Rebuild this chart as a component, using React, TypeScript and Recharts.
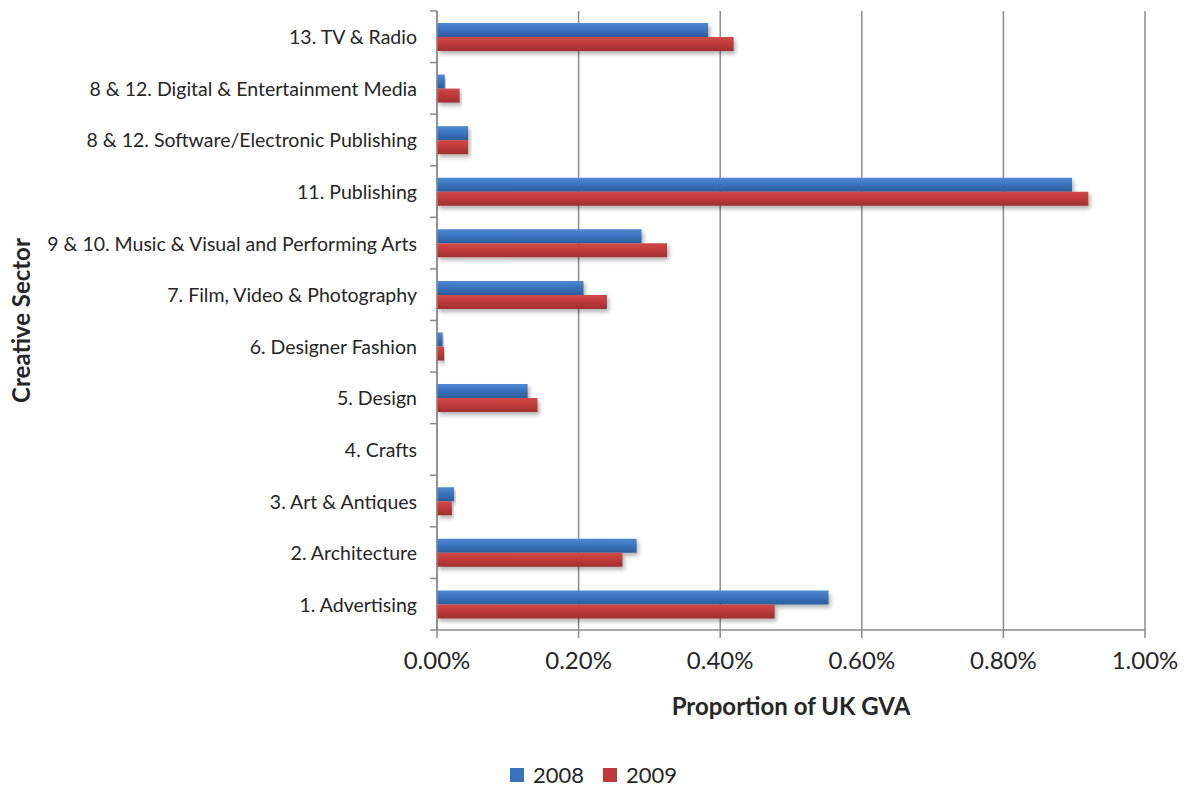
import React from "react";
import {
  BarChart,
  Bar,
  XAxis,
  YAxis,
  CartesianGrid,
  Legend,
} from "recharts";

const categories = [
  "13. TV & Radio",
  "8 & 12. Digital & Entertainment Media",
  "8 & 12. Software/Electronic Publishing",
  "11. Publishing",
  "9 & 10. Music & Visual and Performing Arts",
  "7. Film, Video & Photography",
  "6. Designer Fashion",
  "5. Design",
  "4. Crafts",
  "3. Art & Antiques",
  "2. Architecture",
  "1. Advertising",
];

// proportion of UK GVA, in percent
const values2008 = [0.383, 0.011, 0.044, 0.897, 0.289, 0.207, 0.008, 0.128, 0, 0.024, 0.282, 0.553];
const values2009 = [0.419, 0.032, 0.044, 0.92, 0.325, 0.24, 0.01, 0.142, 0, 0.021, 0.262, 0.477];

const xTicks = [0, 0.2, 0.4, 0.6, 0.8, 1.0];

const data = categories.map((name, i) => ({
  name,
  y2008: values2008[i],
  y2009: values2009[i],
}));

const FONT = "Lato, 'Open Sans', sans-serif";
const TEXT = "#262626";
const GRID = "#8c8c8c";

const WIDTH = 1187;
const HEIGHT = 790;
const MARGIN = { top: 11, right: 42, left: 0, bottom: 1 };
const Y_AXIS_W = 437;
const PLOT_H = 619;
const BAND = PLOT_H / categories.length;

function CategoryTick(props: any) {
  const { x, y, payload, index } = props;
  const axisX = x + 20;
  return (
    <g>
      <line x1={axisX - 7} x2={axisX} y1={y - BAND / 2} y2={y - BAND / 2} stroke={GRID} strokeWidth={1.5} />
      {index === categories.length - 1 && (
        <line x1={axisX - 7} x2={axisX} y1={y + BAND / 2} y2={y + BAND / 2} stroke={GRID} strokeWidth={1.5} />
      )}
      <text
        x={x}
        y={y}
        textAnchor="end"
        dominantBaseline="central"
        fill={TEXT}
        fontSize={19.5}
        fontFamily={FONT}
      >
        {payload.value}
      </text>
    </g>
  );
}

function renderLegend() {
  const items = [
    { label: "2008", color: "#3a73bd" },
    { label: "2009", color: "#c0393a" },
  ];
  return (
    <div
      style={{
        display: "flex",
        justifyContent: "center",
        gap: 19,
        paddingLeft: 42,
        height: 28,
        lineHeight: "28px",
        fontFamily: FONT,
        fontSize: 22,
        color: TEXT,
      }}
    >
      {items.map((it) => (
        <span key={it.label} style={{ display: "flex", alignItems: "center", gap: 9 }}>
          <span style={{ width: 14, height: 14, background: it.color, display: "inline-block" }} />
          {it.label}
        </span>
      ))}
    </div>
  );
}

export default function App() {
  return (
    <div style={{ position: "absolute", left: 0, top: 0, width: WIDTH, height: HEIGHT, background: "#fff" }}>
      <BarChart
        width={WIDTH}
        height={HEIGHT}
        data={data}
        layout="vertical"
        margin={MARGIN}
        barGap={0}
        barSize={14}
      >
        <defs>
          <linearGradient id="blueGrad" x1="0" y1="0" x2="0" y2="1">
            <stop offset="0%" stopColor="#4f8ad3" />
            <stop offset="45%" stopColor="#3b74bf" />
            <stop offset="100%" stopColor="#2c5d9e" />
          </linearGradient>
          <linearGradient id="redGrad" x1="0" y1="0" x2="0" y2="1">
            <stop offset="0%" stopColor="#d04a48" />
            <stop offset="45%" stopColor="#c13b3a" />
            <stop offset="100%" stopColor="#a02e2f" />
          </linearGradient>
          <filter id="barShadow" x="-5%" y="-30%" width="115%" height="190%">
            <feDropShadow dx={2} dy={3} stdDeviation={2} floodColor="#000" floodOpacity={0.3} />
          </filter>
        </defs>
        <CartesianGrid horizontal={false} stroke={GRID} strokeWidth={1.5} />
        <XAxis
          type="number"
          domain={[0, 1]}
          ticks={xTicks}
          tickFormatter={(v: number) => `${v.toFixed(2)}%`}
          stroke={GRID}
          strokeWidth={1.5}
          tickSize={8}
          tickMargin={14}
          tick={{ fill: TEXT, fontSize: 24, fontFamily: FONT }}
          height={131}
          label={(p: any) => {
            const vb = p.viewBox;
            return (
              <text
                x={vb.x + vb.width / 2}
                y={vb.y + 75}
                textAnchor="middle"
                dominantBaseline="central"
                fontSize={24}
                fontWeight="bold"
                fontFamily={FONT}
                fill={TEXT}
              >
                Proportion of UK GVA
              </text>
            );
          }}
        />
        <YAxis
          type="category"
          dataKey="name"
          width={Y_AXIS_W}
          interval={0}
          stroke={GRID}
          strokeWidth={1.5}
          tickLine={false}
          tickSize={7}
          tickMargin={13}
          tick={<CategoryTick />}
          label={(p: any) => {
            const vb = p.viewBox;
            const cy = vb.y + vb.height / 2;
            return (
              <text
                x={20}
                y={cy}
                transform={`rotate(-90, 20, ${cy})`}
                textAnchor="middle"
                dominantBaseline="central"
                fontSize={24}
                fontWeight="bold"
                fontFamily={FONT}
                fill={TEXT}
              >
                Creative Sector
              </text>
            );
          }}
        />
        <Legend verticalAlign="bottom" align="center" content={renderLegend} />
        <Bar
          dataKey="y2008"
          name="2008"
          fill="url(#blueGrad)"
          filter="url(#barShadow)"
          isAnimationActive={false}
        />
        <Bar
          dataKey="y2009"
          name="2009"
          fill="url(#redGrad)"
          filter="url(#barShadow)"
          isAnimationActive={false}
        />
      </BarChart>
    </div>
  );
}
